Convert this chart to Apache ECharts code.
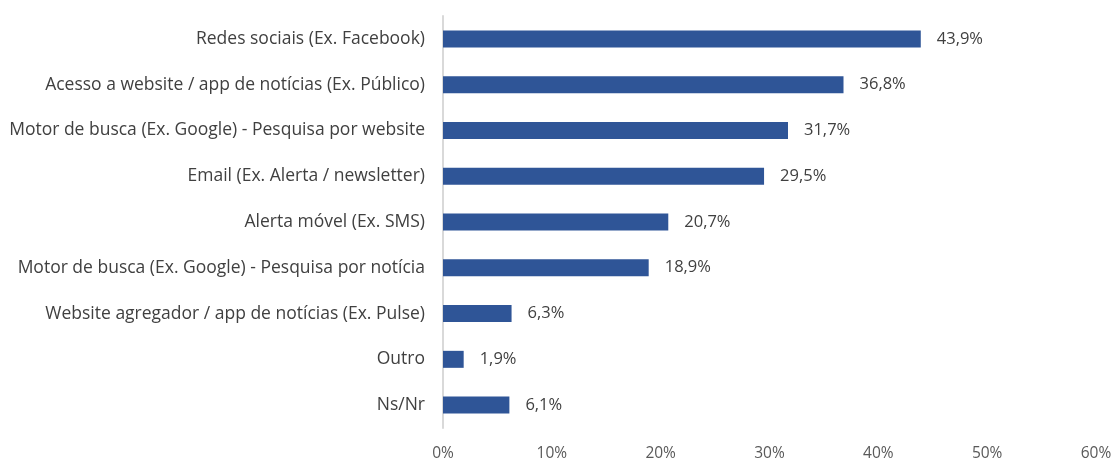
<!DOCTYPE html>
<html>
<head>
<meta charset="utf-8">
<script src="https://cdn.jsdelivr.net/npm/echarts@6/dist/echarts.min.js"></script>
<style>
  html, body { margin: 0; padding: 0; background: #fff; }
  #chart { width: 1118px; height: 462px; }
</style>
</head>
<body>
<div id="chart"></div>
<script>
const categories = [
  'Redes sociais (Ex. Facebook)',
  'Acesso a website / app de notícias (Ex. Público)',
  'Motor de busca (Ex. Google) - Pesquisa por website',
  'Email (Ex. Alerta / newsletter)',
  'Alerta móvel (Ex. SMS)',
  'Motor de busca (Ex. Google) - Pesquisa por notícia',
  'Website agregador / app de notícias (Ex. Pulse)',
  'Outro',
  'Ns/Nr',
];
const values = [43.9, 36.8, 31.7, 29.5, 20.7, 18.9, 6.3, 1.9, 6.1];
const xTicks = [0, 10, 20, 30, 40, 50, 60];

const chart = echarts.init(document.getElementById('chart'));
const fontFamily = '"Open Sans", sans-serif';

chart.setOption({
  animation: false,
  grid: { left: 443, right: 22, top: 16, bottom: 33 },
  xAxis: {
    type: 'value',
    min: xTicks[0],
    max: xTicks[xTicks.length - 1],
    interval: 10,
    axisLine: { show: false },
    axisTick: { show: false },
    splitLine: { show: false },
    axisLabel: {
      margin: 18,
      color: '#595959',
      fontSize: 15.5,
      fontFamily,
      formatter: (v) => v + '%',
    },
  },
  yAxis: {
    type: 'category',
    inverse: true,
    data: categories,
    axisLine: { show: true, lineStyle: { color: '#d9d9d9', width: 2 } },
    axisTick: { show: false },
    axisLabel: {
      margin: 18,
      color: '#404040',
      fontSize: 17.5,
      fontFamily,
    },
  },
  series: [
    {
      type: 'bar',
      data: values,
      barWidth: 17,
      itemStyle: { color: '#2f5597' },
      label: {
        show: true,
        position: 'right',
        distance: 16,
        color: '#404040',
        fontSize: 16.5,
        fontFamily,
        formatter: (p) => p.value.toFixed(1).replace('.', ',') + '%',
      },
    },
  ],
});
</script>
</body>
</html>
